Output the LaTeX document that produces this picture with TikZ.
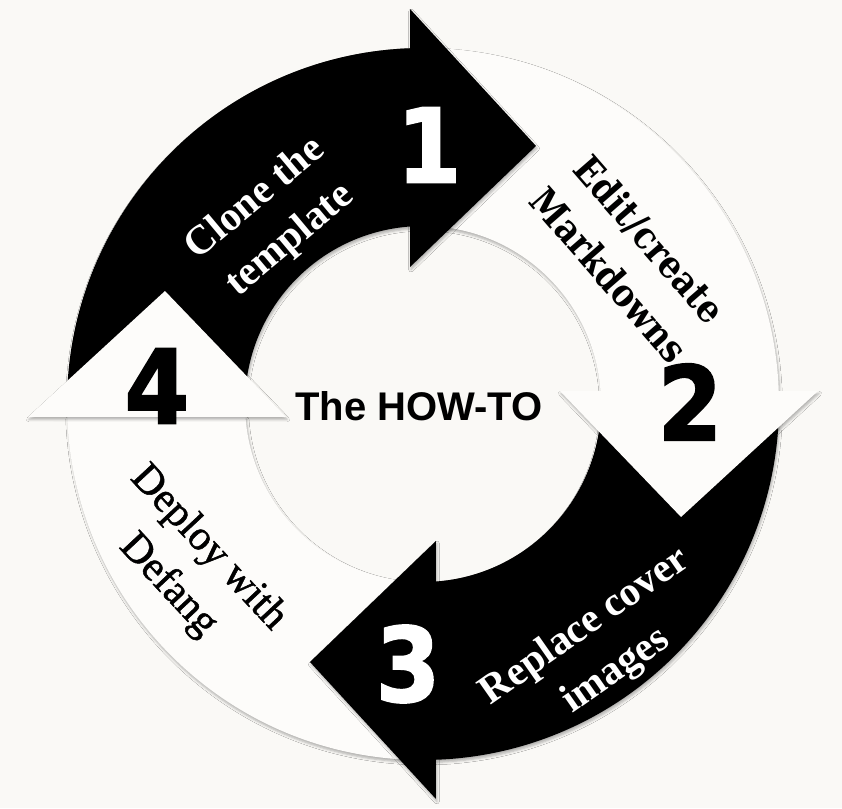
\documentclass[tikz,border=0pt]{standalone}
\usepackage{fontspec}
\usepackage{tikz}
\usetikzlibrary{shadows.blur}
\setmainfont{Liberation Serif}
\newfontfamily\howfont{Liberation Sans}
\newfontfamily\numfont{DejaVu Sans}[FakeBold=1.8, FakeStretch=0.9]
\newfontfamily\slabfont{DejaVu Serif}[FakeStretch=0.88]
\newfontfamily\deployfont{Liberation Serif}[FakeBold=1.2]
\definecolor{pagecol}{HTML}{FAF9F6}
\definecolor{paleshape}{HTML}{FDFCFA}
\tikzset{x=1pt, y=1pt,
  arrowshadow/.style={blur shadow={shadow xshift=1pt, shadow yshift=-2.5pt, shadow blur radius=2.5pt, shadow opacity=30}},
  darkarrow/.style={fill=black, arrowshadow},
  palearrow/.style={fill=paleshape, arrowshadow},
  stepnum/.style={inner sep=0, font={\numfont\bfseries\fontsize{103}{110}\selectfont}},
  steptext/.style={align=center, inner sep=0, font={\bfseries\fontsize{41}{54}\selectfont}}}
\newcommand{\arrowbody}[1]{(#1+178:356) arc[start angle=#1+178, end angle=#1+92.09, radius=356] -- (#1+94.19:178) arc[start angle=#1+94.19, end angle=#1+178, radius=178] -- cycle}
\newcommand{\arrowhead}[1]{(#1+91.88:395.2) -- (#1+66.35:281.7) -- (#1+95.42:137.6) -- cycle}
\begin{document}
\begin{tikzpicture}
\useasboundingbox (-423,-404) rectangle (419,404);
\fill[pagecol] (-423,-404) rectangle (419,404);
% bodies first, heads on top
\fill[darkarrow] \arrowbody{0};
\fill[palearrow] \arrowbody{-90};
\fill[darkarrow] \arrowbody{-180};
\fill[palearrow] \arrowbody{90};
\fill[darkarrow] \arrowhead{0};
\fill[palearrow] \arrowhead{-90};
\fill[darkarrow] \arrowhead{-180};
\fill[palearrow] \arrowhead{90};
\draw (6, 259) node[stepnum, text=white](num1) {1} ;
\draw (267, 2) node[stepnum](num2) {2} ;
\draw (-15, -260) node[stepnum, text=white](num3) {3} ;
\draw (-266, 18) node[stepnum](num4) {4} ;
\draw (-150, 184) node[steptext, text=white, rotate=40](clone) {Clone the\\template} ;
\draw (207, 147) node[steptext, rotate=-49, font={\slabfont\bfseries\fontsize{38}{54}\selectfont}](edit) {Edit/create\\Markdowns} ;
\draw (178, -245) node[steptext, text=white, rotate=35](replace) {Replace cover\\images} ;
\draw (-235, -163) node[steptext, rotate=-47, font={\deployfont\mdseries\fontsize{42}{55}\selectfont}](deploy) {Deploy with\\Defang} ;
\draw (-4, -2) node[inner sep=0, font={\howfont\bfseries\fontsize{40}{48}\selectfont}](howto) {The HOW-TO} ;
\end{tikzpicture}
\end{document}
